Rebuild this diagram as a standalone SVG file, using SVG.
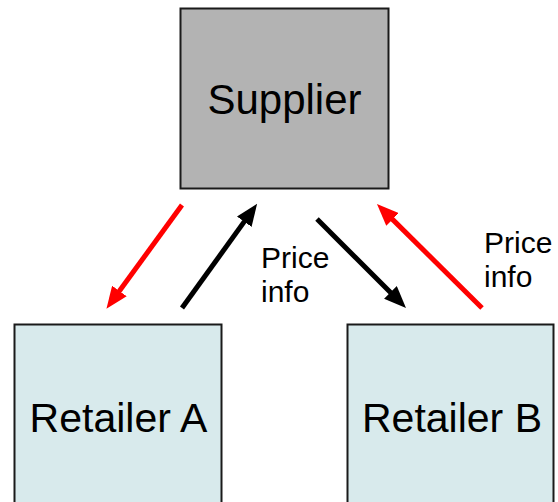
<svg xmlns="http://www.w3.org/2000/svg" width="558" height="502" viewBox="0 0 558 502">
  <style>
    .box { stroke: #1a1a1a; stroke-width: 2; }
    .supplier { fill: #b3b3b3; }
    .retailer { fill: #d8eaec; }
    .label { font-family: "Liberation Sans", Arial, sans-serif; fill: #000; }
    .big { font-size: 41px; text-anchor: middle; }
    .small { font-size: 30px; }
    .red { stroke: #f00; stroke-width: 5; fill: none; marker-end: url(#headRed); }
    .black { stroke: #000; stroke-width: 5; fill: none; marker-end: url(#headBlack); }
  </style>
  <defs>
    <marker id="headRed" markerUnits="userSpaceOnUse" markerWidth="22" markerHeight="18" refX="9" refY="9" orient="auto">
      <path d="M0,0 L22,9 L0,18 z" fill="#f00"/>
    </marker>
    <marker id="headBlack" markerUnits="userSpaceOnUse" markerWidth="22" markerHeight="18" refX="9" refY="9" orient="auto">
      <path d="M0,0 L22,9 L0,18 z" fill="#000"/>
    </marker>
  </defs>
  <rect width="558" height="502" fill="#fff"/>

  <g id="supplier">
    <rect class="box supplier" x="180.5" y="8.5" width="208" height="180"/>
    <text class="label big" x="284.5" y="114" style="font-size:42px">Supplier</text>
  </g>

  <g id="retailer-a">
    <rect class="box retailer" x="14.5" y="324.5" width="207" height="190"/>
    <text class="label big" x="118.5" y="432">Retailer A</text>
  </g>

  <g id="retailer-b">
    <rect class="box retailer" x="347.5" y="324.5" width="206" height="190"/>
    <text class="label big" x="452" y="432">Retailer B</text>
  </g>

  <g id="connectors">
    <line class="red" x1="182" y1="205" x2="114.1" y2="298.3"/>
    <line class="black" x1="182" y1="308" x2="249.5" y2="214.4"/>
    <line class="black" x1="317" y1="219" x2="396.8" y2="298.8"/>
    <line class="red" x1="482" y1="308" x2="386.2" y2="213.1"/>
  </g>

  <g id="price-info-a">
    <text class="label small" x="261" y="268">Price</text>
    <text class="label small" x="261" y="302">info</text>
  </g>
  <g id="price-info-b">
    <text class="label small" x="484" y="253">Price</text>
    <text class="label small" x="484" y="287">info</text>
  </g>
</svg>
